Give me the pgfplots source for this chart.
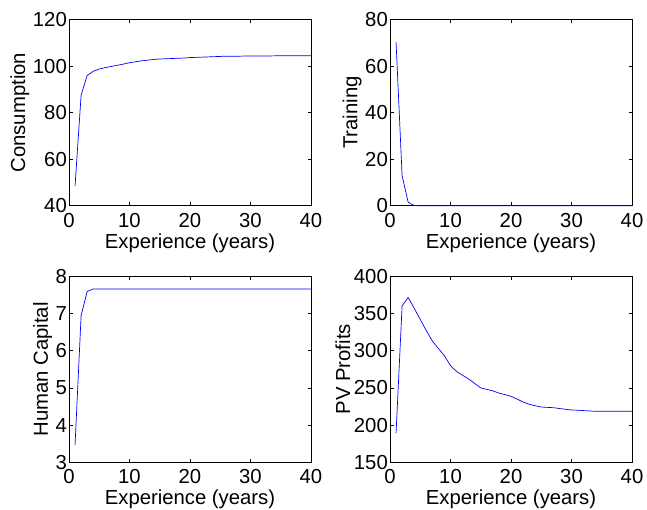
\documentclass[border=0pt]{standalone}
\usepackage{fontspec}
\setmainfont{Liberation Sans}
\usepackage{pgfplots}
\pgfplotsset{compat=1.18}
\pgfplotsset{
  mstyle/.style={
    width=242pt, height=186pt, scale only axis,
    xmin=0, xmax=40, xtick={0,10,20,30,40},
    tick align=inside, major tick length=3.5pt,
    axis line style={line width=0.8pt, black},
    every tick/.style={black, line width=0.7pt},
    /pgf/number format/assume math mode=true,
    tick label style={font=\fontsize{20.3}{24}\selectfont},
    label style={font=\fontsize{20.3}{24}\selectfont},
    xticklabel style={inner sep=0pt, yshift=-7pt},
    yticklabel style={inner sep=0pt, xshift=-2pt},
    xlabel={Experience (years)},
    xlabel style={at={(axis description cs:0.5,0)}, anchor=north, inner sep=0pt, yshift=-28.3pt},
    clip=false, no markers,
    every axis plot post/.append style={blue, line width=0.7pt, mark=none},
  },
  lowrow/.style={xlabel style={yshift=1.2pt}},
}
\begin{document}
\begin{tikzpicture}
\useasboundingbox (0,0) rectangle (647pt,510pt);
\begin{axis}[mstyle, at={(69pt,304.3pt)}, anchor=south west,
  ymin=40, ymax=120, ytick={40,60,80,100,120}, ylabel={Consumption}]
\addplot coordinates {(1,48.5)(2,87.5)(3,96.0)(4,97.8)(5,98.8)(6,99.4)(7,99.9)(8,100.4)(9,100.9)(10,101.5)
(11,101.9)(12,102.3)(13,102.6)(14,102.9)(15,103.1)(16,103.2)(17,103.3)(18,103.4)(19,103.5)(20,103.7)
(21,103.8)(22,103.9)(23,104.0)(24,104.1)(25,104.2)(26,104.3)(27,104.3)(28,104.3)(29,104.35)(30,104.35)
(31,104.4)(32,104.4)(33,104.4)(34,104.45)(35,104.45)(36,104.45)(37,104.5)(38,104.5)(39,104.5)(40,104.5)};
\end{axis}
\begin{axis}[mstyle, at={(390pt,304.3pt)}, anchor=south west,
  ymin=0, ymax=80, ytick={0,20,40,60,80}, ylabel={Training}]
\addplot coordinates {(1,70.4)(2,12.9)(3,1.5)(4,0.05)(5,0)(6,0)(7,0)(8,0)(9,0)(10,0)
(11,0)(12,0)(13,0)(14,0)(15,0)(16,0)(17,0)(18,0)(19,0)(20,0)
(21,0)(22,0)(23,0)(24,0)(25,0)(26,0)(27,0)(28,0)(29,0)(30,0)
(31,0)(32,0)(33,0)(34,0)(35,0)(36,0)(37,0)(38,0)(39,0)(40,0)};
\end{axis}
\begin{axis}[mstyle, lowrow, at={(69pt,47.7pt)}, anchor=south west,
  ymin=3, ymax=8, ytick={3,4,5,6,7,8}, ylabel={Human Capital}]
\addplot coordinates {(1,3.47)(2,6.94)(3,7.59)(4,7.66)(5,7.66)(6,7.66)(7,7.66)(8,7.66)(9,7.66)(10,7.66)
(11,7.66)(12,7.66)(13,7.66)(14,7.66)(15,7.66)(16,7.66)(17,7.66)(18,7.66)(19,7.66)(20,7.66)
(21,7.66)(22,7.66)(23,7.66)(24,7.66)(25,7.66)(26,7.66)(27,7.66)(28,7.66)(29,7.66)(30,7.66)
(31,7.66)(32,7.66)(33,7.66)(34,7.66)(35,7.66)(36,7.66)(37,7.66)(38,7.66)(39,7.66)(40,7.66)};
\end{axis}
\begin{axis}[mstyle, lowrow, at={(390pt,47.7pt)}, anchor=south west,
  ymin=150, ymax=400, ytick={150,200,250,300,350,400}, ylabel={PV Profits}]
\addplot coordinates {(1,189.2)(2,360.3)(3,371.6)(4,357)(5,342)(6,327)(7,313)(8,303)(9,293)(10,280)
(11,272)(12,267)(13,262)(14,256)(15,250)(16,248)(17,246)(18,243)(19,241)(20,238.7)
(21,235)(22,231)(23,228)(24,226)(25,224.3)(26,223.8)(27,223.4)(28,222.3)(29,221.3)(30,220.3)
(31,220)(32,219.5)(33,219)(34,218.5)(35,218.5)(36,218.5)(37,218.5)(38,218.5)(39,218.5)(40,218.5)};
\end{axis}
\end{tikzpicture}
\end{document}
